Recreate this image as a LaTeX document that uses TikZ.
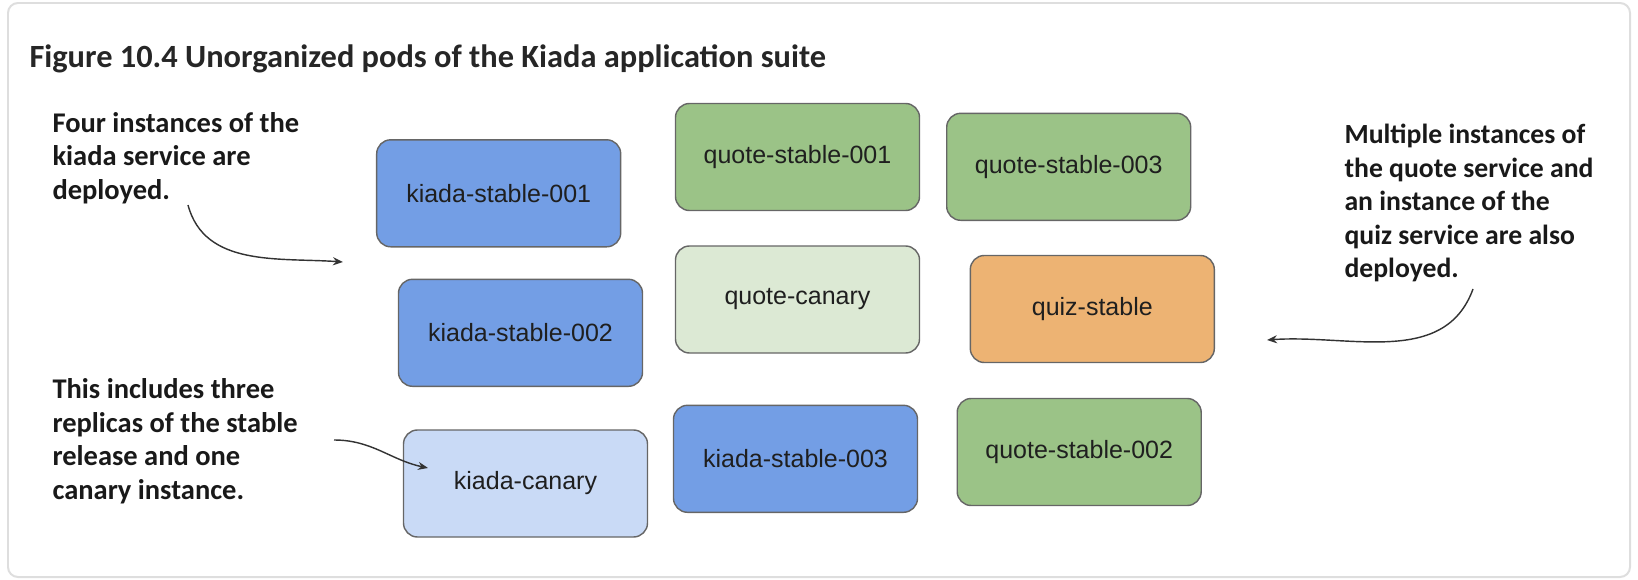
\documentclass[tikz,border=0pt]{standalone}
\usepackage{fontspec}
\setmainfont{Liberation Sans}
\newfontfamily\notefont{Carlito}
\usetikzlibrary{arrows.meta}

\definecolor{kiadablue}{HTML}{739EE5}
\definecolor{kiadalight}{HTML}{C9DAF6}
\definecolor{quotegreen}{HTML}{9BC387}
\definecolor{quotelight}{HTML}{DCE9D4}
\definecolor{quizorange}{HTML}{EDB373}

\tikzset{
	pod/.style={draw=black!60, line width=0.5mm, rounded corners=14, minimum width=244, minimum height=107, text=black!88, font=\fontsize{25}{30}\selectfont},
	note/.style={anchor=west, align=left, text=black!90, font=\notefont\bfseries\fontsize{27.7}{33.5}\selectfont},
	callout/.style={-{Stealth[length=10, width=8]}, line width=0.5mm, color=black!80}
}

\begin{document}
\begin{tikzpicture}[x=1pt, y=-1pt]
			%%%%% START %%%%%
			\useasboundingbox (0, 0) rectangle (1638, 580);
			\draw[line width=0.7mm, color=black!13, rounded corners=10] (8, 3) rectangle (1630, 577);
			
			\node[anchor=west, text=black!85, font=\notefont\bfseries\fontsize{32.4}{38}\selectfont] (title) at (26, 59) {Figure 10.4 Unorganized pods of the Kiada application suite};
			
			% kiada pods
			\node[pod, fill=kiadablue] (kiada1) at (498.7, 193.3) {kiada-stable-001};
			\node[pod, fill=kiadablue] (kiada2) at (520.5, 332.8) {kiada-stable-002};
			\node[pod, fill=kiadalight] (kiadacanary) at (525.5, 483.5) {kiada-canary};
			\node[pod, fill=kiadablue] (kiada3) at (795.5, 458.8) {kiada-stable-003};
			
			% quote and quiz pods
			\node[pod, fill=quotegreen] (quote1) at (797.5, 157) {quote-stable-001};
			\node[pod, fill=quotelight] (quotecanary) at (797.5, 299.5) {quote-canary};
			\node[pod, fill=quotegreen] (quote3) at (1068.7, 166.8) {quote-stable-003};
			\node[pod, fill=quizorange] (quiz) at (1092.3, 309) {quiz-stable};
			\node[pod, fill=quotegreen] (quote2) at (1079.2, 452) {quote-stable-002};
			
			% notes
			\node[note, font=\notefont\bfseries\fontsize{28.5}{33.5}\selectfont] (notekiada) at (49, 158) {Four instances of the\\kiada service are\\deployed.};
			\node[note, font=\notefont\bfseries\fontsize{28.5}{33.5}\selectfont] (notecanary) at (49, 441) {This includes three\\replicas of the stable\\release and one\\canary instance.};
			\node[note] (notequote) at (1341, 203) {Multiple instances of\\the quote service and\\an instance of the\\quiz service are also\\deployed.};
			
			\coordinate (kiadafrom) at (188, 205);
			\coordinate (kiadato) at (343, 262);
			\coordinate (canaryfrom) at (334, 440);
			\coordinate (canaryto) at (428, 468);
			\coordinate (quotefrom) at (1473, 289);
			\coordinate (quoteto) at (1267, 340);
			
			\draw[callout] (kiadafrom) to[out=-75, in=176] (kiadato);
			\draw[callout] (canaryfrom) to[out=0, in=168] (canaryto);
			\draw[callout] (quotefrom) to[out=-110, in=4] (quoteto);
			
			%%%%% END %%%%%
\end{tikzpicture}
\end{document}
